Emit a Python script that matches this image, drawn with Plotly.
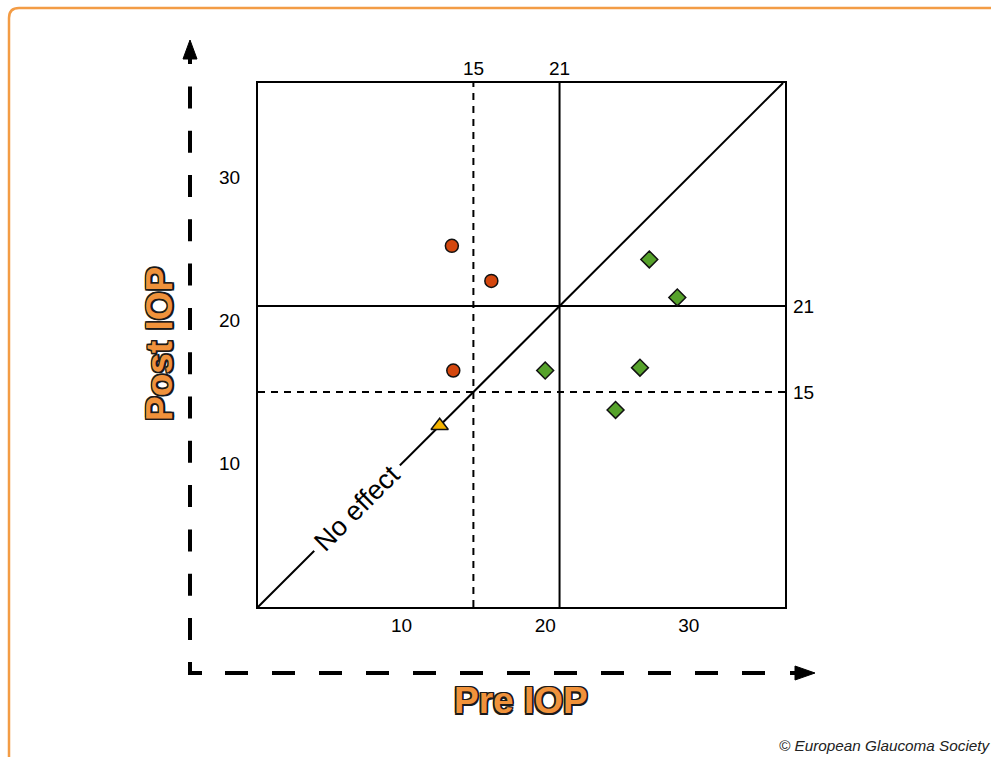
import plotly.graph_objects as go

# ---- data ----
increase_x = [13.5, 16.25, 13.6]
increase_y = [25.2, 22.75, 16.5]
noeffect_x = [12.65]
noeffect_y = [12.65]
decrease_x = [27.25, 29.2, 20.0, 26.6, 24.9]
decrease_y = [24.25, 21.6, 16.5, 16.7, 13.75]
target_dashed = 15
target_solid = 21
tick_vals = [10, 20, 30]
tick_text = ["10", "20", "30"]
x_max = 36.7
y_max = 36.56

W, H = 991, 757
ML, MR, MT, MB = 258, 206, 83, 150
PW, PH = W - ML - MR, H - MT - MB


def X(px):
    return (px - ML) / PW


def Y(py):
    return (H - MB - py) / PH


FONT = "Liberation Sans, Arial, Helvetica, sans-serif"

fig = go.Figure()

fig.add_trace(go.Scatter(x=increase_x, y=increase_y, mode="markers",
                         marker=dict(symbol="circle", size=13, color="#D4470E",
                                     line=dict(color="#111", width=1.5)),
                         showlegend=False))
fig.add_trace(go.Scatter(x=noeffect_x, y=noeffect_y, mode="markers",
                         marker=dict(symbol="triangle-up", size=15, color="#F4B400",
                                     line=dict(color="#111", width=1.5)),
                         showlegend=False))
fig.add_trace(go.Scatter(x=decrease_x, y=decrease_y, mode="markers",
                         marker=dict(symbol="diamond", size=13, color="#56A22B",
                                     line=dict(color="#111", width=1.5)),
                         showlegend=False))

shapes = []
# reference lines
for v, dash in [(target_dashed, "7px,6px"), (target_solid, "solid")]:
    shapes.append(dict(type="line", xref="x", yref="paper", x0=v, x1=v, y0=0, y1=1,
                       line=dict(color="black", width=2, dash=dash), layer="below"))
    shapes.append(dict(type="line", xref="paper", yref="y", x0=0, x1=1, y0=v, y1=v,
                       line=dict(color="black", width=2, dash=dash), layer="below"))
# no-effect diagonal
shapes.append(dict(type="line", xref="x", yref="y", x0=0, y0=0, x1=y_max, y1=y_max,
                   line=dict(color="black", width=2), layer="below"))

# decorative dashed axes with arrowheads
shapes.append(dict(type="path", xref="paper", yref="paper",
                   path=f"M {X(190)},{Y(640)} L {X(190)},{Y(86)}",
                   line=dict(color="black", width=4, dash="22px,22.3px")))
shapes.append(dict(type="path", xref="paper", yref="paper",
                   path=f"M {X(225)},{Y(673)} L {X(767)},{Y(673)}",
                   line=dict(color="black", width=4, dash="23px,24px")))
shapes.append(dict(type="path", xref="paper", yref="paper",
                   path=f"M {X(190)},{Y(662)} L {X(190)},{Y(673)} L {X(202)},{Y(673)}",
                   line=dict(color="black", width=4)))
shapes.append(dict(type="path", xref="paper", yref="paper",
                   path=f"M {X(183)},{Y(59)} L {X(190)},{Y(40)} L {X(197)},{Y(59)} Z",
                   fillcolor="black", line=dict(color="black", width=1)))
shapes.append(dict(type="path", xref="paper", yref="paper",
                   path=f"M {X(190)},{Y(58)} L {X(190)},{Y(64)}",
                   line=dict(color="black", width=4)))
shapes.append(dict(type="path", xref="paper", yref="paper",
                   path=f"M {X(795)},{Y(666)} L {X(815)},{Y(673)} L {X(795)},{Y(680)} Z",
                   fillcolor="black", line=dict(color="black", width=1)))
shapes.append(dict(type="path", xref="paper", yref="paper",
                   path=f"M {X(790)},{Y(673)} L {X(796)},{Y(673)}",
                   line=dict(color="black", width=4)))
# orange rounded frame
shapes.append(dict(type="path", xref="paper", yref="paper",
                   path=(f"M {X(9)},{Y(800)} L {X(9)},{Y(18)} "
                         f"Q {X(9)},{Y(8)} {X(19)},{Y(8)} L {X(1050)},{Y(8)}"),
                   line=dict(color="#F39C45", width=2.5)))

outline = ("-1.5px -1.5px 0 #1a1a1a, 1.5px -1.5px 0 #1a1a1a, -1.5px 1.5px 0 #1a1a1a, "
           "1.5px 1.5px 0 #1a1a1a, 0 1.5px 0 #1a1a1a, 0 -1.5px 0 #1a1a1a, "
           "1.5px 0 0 #1a1a1a, -1.5px 0 0 #1a1a1a")

annotations = [
    dict(text="15", x=target_dashed, xref="x", y=1, yref="paper", yanchor="bottom",
         yshift=2, showarrow=False, font=dict(size=19, color="black", family=FONT)),
    dict(text="21", x=target_solid, xref="x", y=1, yref="paper", yanchor="bottom",
         yshift=2, showarrow=False, font=dict(size=19, color="black", family=FONT)),
    dict(text="21", x=1, xref="paper", y=target_solid, yref="y", xanchor="left",
         xshift=6, showarrow=False, font=dict(size=19, color="black", family=FONT)),
    dict(text="15", x=1, xref="paper", y=target_dashed, yref="y", xanchor="left",
         xshift=6, showarrow=False, font=dict(size=19, color="black", family=FONT)),
    dict(text="No effect", x=6.9, y=6.9, xref="x", yref="y", showarrow=False,
         textangle=-45, bgcolor="white", borderpad=6,
         font=dict(size=27, color="black", family=FONT)),
    dict(text="Post IOP", x=X(159), y=Y(344), xref="paper", yref="paper",
         xanchor="center", yanchor="middle", showarrow=False, textangle=-90,
         font=dict(size=37, color="#F0923B", family=FONT, weight="bold", shadow=outline)),
    dict(text="Pre IOP", x=X(521), y=Y(700), xref="paper", yref="paper",
         xanchor="center", yanchor="middle", showarrow=False,
         font=dict(size=37, color="#F0923B", family=FONT, weight="bold", shadow=outline)),
    dict(text="© European Glaucoma Society", x=X(777), y=Y(745), xref="paper",
         yref="paper", xanchor="left", yanchor="middle", showarrow=False,
         font=dict(size=15.3, color="#222", family=FONT, style="italic")),
]

fig.update_layout(
    width=W, height=H,
    margin=dict(l=ML, r=MR, t=MT, b=MB, pad=0),
    paper_bgcolor="white", plot_bgcolor="white",
    shapes=shapes, annotations=annotations,
    xaxis=dict(range=[0, x_max], tickvals=tick_vals, ticktext=tick_text, ticks="",
               showgrid=False, zeroline=False, showline=True, mirror=True,
               linecolor="black", linewidth=2, ticklabelstandoff=0,
               tickfont=dict(size=19, color="black", family=FONT)),
    yaxis=dict(range=[0, y_max], tickvals=tick_vals, ticktext=tick_text, ticks="",
               showgrid=False, zeroline=False, showline=True, mirror=True,
               linecolor="black", linewidth=2, ticklabelstandoff=12,
               tickfont=dict(size=19, color="black", family=FONT)),
)

fig.write_html("out.html", config={"displayModeBar": False},
               post_script="document.body.style.margin='0';document.body.style.overflow='hidden';")
